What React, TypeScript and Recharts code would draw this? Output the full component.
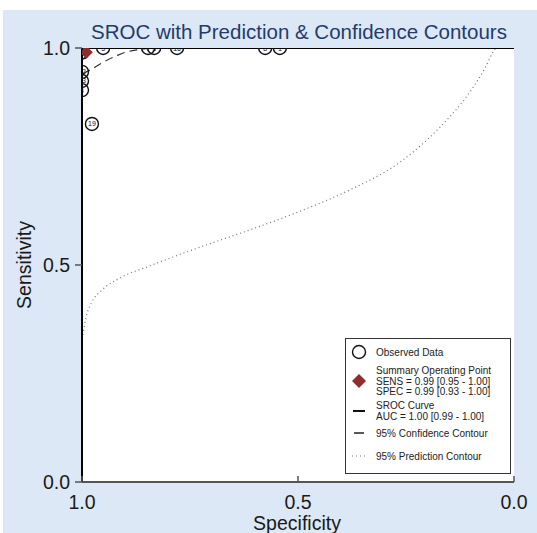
import { ComposedChart, Line, Scatter, XAxis, YAxis, CartesianGrid } from 'recharts'

// observed studies
const studyIds = [1, 8, 16, 3, 7, 5, 12, 13, 4, 19, 2, 6, 9, 10, 11, 14, 15, 17, 18]
const studySpec = [0.542, 0.576, 0.78, 0.833, 0.847, 0.951, 1.0, 1.0, 1.0, 0.977, 1.0, 1.0, 1.0, 1.0, 1.0, 1.0, 1.0, 1.0, 1.0]
const studySens = [1.0, 1.0, 1.0, 1.0, 1.0, 1.0, 0.945, 0.924, 0.903, 0.825, 1.0, 1.0, 0.99, 1.0, 1.0, 0.99, 1.0, 1.0, 0.99]

// summary operating point
const summarySpec = [0.99]
const summarySens = [0.99]

// SROC curve
const srocSpec = [1.0, 1.0, 0.99, 0.0]
const srocSens = [0.0, 0.99, 1.0, 1.0]

// 95% confidence contour
const confSpec = [0.998, 0.99, 0.98, 0.96, 0.94, 0.92, 0.9, 0.87, 0.84, 0.81]
const confSens = [0.94, 0.945, 0.95, 0.962, 0.973, 0.982, 0.99, 0.996, 0.999, 1.0]

// 95% prediction contour
const predSpec = [0.998, 0.991, 0.977, 0.954, 0.912, 0.843, 0.727, 0.611, 0.495, 0.38, 0.264, 0.171, 0.102, 0.067, 0.046, 0.042]
const predSens = [0.339, 0.378, 0.415, 0.442, 0.47, 0.498, 0.541, 0.581, 0.624, 0.673, 0.737, 0.818, 0.899, 0.954, 0.995, 1.0]

const axisTicks = [0, 0.5, 1]

const zip = (xs: number[], ys: number[]) => xs.map((spec, i) => ({ spec, sens: ys[i] }))

const studies = studyIds.map((id, i) => ({ id, spec: studySpec[i], sens: studySens[i] }))
const summary = zip(summarySpec, summarySens)
const sroc = zip(srocSpec, srocSens)
const conf = zip(confSpec, confSens)
const pred = zip(predSpec, predSens)

const FONT = '"Liberation Sans", Arial, sans-serif'
const BG = '#dce8f5'
const DIAMOND = '#8f2d2d'

const StudyMark = (props: any) => {
  const { cx, cy, payload } = props
  return (
    <g>
      <circle cx={cx} cy={cy} r={6.5} fill="none" stroke="#111" strokeWidth={1.4} />
      <text x={cx} y={cy + 2.5} textAnchor="middle" fontSize={7} fontFamily={FONT} fill="#111">
        {payload.id}
      </text>
    </g>
  )
}

const DiamondMark = (props: any) => {
  const { cx, cy } = props
  const s = 6.5
  return <path d={`M${cx},${cy - s}L${cx + s},${cy}L${cx},${cy + s}L${cx - s},${cy}Z`} fill={DIAMOND} />
}

const XTick = (props: any) => {
  const { x, y, payload } = props
  const axisY = y - 13
  return (
    <g>
      <line x1={x} x2={x} y1={axisY} y2={axisY - 6} stroke="#555" strokeWidth={1.5} />
      <text x={x} y={axisY + 27} textAnchor="middle" fontSize={19.5} fontFamily={FONT} fill="#1a1a1a">
        {payload.value.toFixed(1)}
      </text>
    </g>
  )
}

function Overlay() {
  const tx = 376
  const ix = 359
  const t = { fontSize: 10, fontFamily: FONT, fill: '#222' }
  return (
    <svg width={537} height={533} style={{ position: 'absolute', left: 0, top: 0, pointerEvents: 'none' }}>
      <text x={299} y={39} textAnchor="middle" fontSize={20.5} fontFamily={FONT} fill="#243b6b">
        SROC with Prediction &amp; Confidence Contours
      </text>
      <text x={297} y={530} textAnchor="middle" fontSize={19.5} fontFamily={FONT} fill="#1a1a1a">
        Specificity
      </text>
      <text
        x={24}
        y={265}
        textAnchor="middle"
        dominantBaseline="central"
        transform="rotate(-90 24 265)"
        fontSize={19.5}
        fontFamily={FONT}
        fill="#1a1a1a"
      >
        Sensitivity
      </text>

      <rect x={345.5} y={338.5} width={165} height={135} fill="#fff" stroke="#333" strokeWidth={1} />
      <circle cx={ix} cy={352} r={6.5} fill="none" stroke="#111" strokeWidth={1.4} />
      <text x={tx} y={355.5} {...t}>Observed Data</text>

      <path d={`M${ix},374L${ix + 7},381L${ix},388L${ix - 7},381Z`} fill={DIAMOND} />
      <text x={tx} y={373.5} {...t}>Summary Operating Point</text>
      <text x={tx} y={384.5} {...t}>SENS = 0.99 [0.95 - 1.00]</text>
      <text x={tx} y={395} {...t}>SPEC = 0.99 [0.93 - 1.00]</text>

      <line x1={ix - 6} x2={ix + 6} y1={411} y2={411} stroke="#111" strokeWidth={2} />
      <text x={tx} y={408.5} {...t}>SROC Curve</text>
      <text x={tx} y={419.5} {...t}>AUC = 1.00 [0.99 - 1.00]</text>

      <line x1={ix - 5} x2={ix + 5} y1={433} y2={433} stroke="#222" strokeWidth={1.5} />
      <text x={tx} y={436.5} {...t}>95% Confidence Contour</text>

      <line x1={ix - 7} x2={ix + 7} y1={456} y2={456} stroke="#777" strokeWidth={1.2} strokeDasharray="1 3" />
      <text x={tx} y={459.5} {...t}>95% Prediction Contour</text>
    </svg>
  )
}

export default function App() {
  return (
    <div style={{ position: 'absolute', left: 0, top: 0, width: 537, height: 533, background: '#fff', fontFamily: FONT }}>
      <div style={{ position: 'absolute', left: 3, top: 10, right: 0, bottom: 0, background: BG }} />
      <div style={{ position: 'absolute', left: 0, top: 0 }}>
        <ComposedChart width={537} height={533} margin={{ top: 48, right: 23, bottom: 11, left: 22 }}>
          <CartesianGrid fill="#fff" horizontal={false} vertical={false} />
          <XAxis
            type="number"
            dataKey="spec"
            domain={[0, 1]}
            reversed
            allowDataOverflow
            ticks={axisTicks}
            height={40}
            tickSize={0}
            tickMargin={13}
            tickLine={false}
            axisLine={{ stroke: '#555', strokeWidth: 2 }}
            tick={<XTick />}
          />
          <YAxis
            type="number"
            dataKey="sens"
            domain={[0, 1]}
            allowDataOverflow
            ticks={axisTicks}
            width={60}
            tickSize={7}
            tickMargin={5}
            tickFormatter={(v: number) => v.toFixed(1)}
            tick={{ fontSize: 19.5, fill: '#1a1a1a', fontFamily: FONT }}
            tickLine={{ stroke: '#555', strokeWidth: 1.5 }}
            axisLine={{ stroke: '#000', strokeWidth: 2 }}
          />
          <Line data={pred} dataKey="sens" type="monotone" stroke="#777" strokeWidth={1.2} strokeDasharray="1 3" dot={false} isAnimationActive={false} />
          <Line data={conf} dataKey="sens" type="monotone" stroke="#333" strokeWidth={1.2} strokeDasharray="8 5" dot={false} isAnimationActive={false} />
          <Line data={sroc} dataKey="sens" type="linear" stroke="#000" strokeWidth={2} dot={false} isAnimationActive={false} />
          <Scatter data={studies} shape={<StudyMark />} isAnimationActive={false} />
          <Scatter data={summary} shape={<DiamondMark />} isAnimationActive={false} />
        </ComposedChart>
      </div>
      <Overlay />
    </div>
  )
}
